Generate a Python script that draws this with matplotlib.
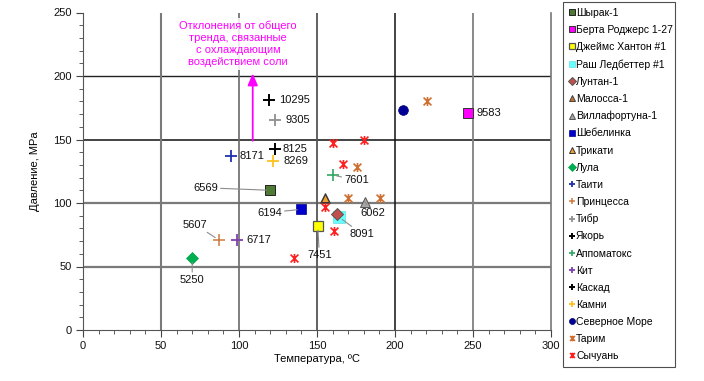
import matplotlib
matplotlib.use("Agg")
import matplotlib.pyplot as plt
from matplotlib.path import Path
from matplotlib.ticker import MultipleLocator

plt.rcParams['font.family'] = ['Liberation Sans', 'DejaVu Sans']

# ---------------- data ----------------
series_names = ["Шырак-1", "Берта Роджерс 1-27", "Джеймс Хантон #1", "Раш Ледбеттер #1",
                "Лунтан-1", "Малосса-1", "Виллафортуна-1", "Шебелинка", "Трикати", "Лула",
                "Таити", "Принцесса", "Тибр", "Якорь", "Аппоматокс", "Кит", "Каскад",
                "Камни", "Северное Море", "Тарим", "Сычуань"]
temperature = [[120], [247], [150.5], [164], [162.5], [155], [180.5], [140], [155], [70],
               [95], [87], [123], [119.5], [160], [99], [123], [122], [205],
               [220.5, 175.5, 170, 190.5],
               [160, 180, 166.5, 155, 161, 135]]
pressure = [[110], [171], [82], [89], [91], [104], [101], [95], [104], [56.5],
            [137], [71], [165], [181], [122], [71], [142.5], [133], [173],
            [180, 128, 104, 104],
            [147, 150, 130.5, 97, 78, 56.5]]
# well depth labels: (series index, label)
label_series = [0, 1, 2, 3, 6, 7, 10, 11, 15, 9, 12, 13, 14, 16, 17]
label_text = ["6569", "9583", "7451", "8091", "6062", "6194", "8171", "5607", "6717",
              "5250", "9305", "10295", "7601", "8125", "8269"]

annotation_text = "Отклонения от общего\nтренда, связанные\nс охлаждающим\nвоздействием соли"

# ---------------- styles ----------------
star = Path([(-1, -1), (1, 1), (-1, 1), (1, -1), (0, 1.15), (0, -1.15)],
            [Path.MOVETO, Path.LINETO, Path.MOVETO, Path.LINETO,
             Path.MOVETO, Path.LINETO])
styles = [
    dict(marker='s', ms=7, mfc='#4e7a35', mec='#222222', mew=0.7),
    dict(marker='s', ms=7, mfc='#ff00ff', mec='#333333', mew=0.7),
    dict(marker='s', ms=7.5, mfc='#ffff00', mec='#555555', mew=0.9),
    dict(marker='s', ms=8, mfc='#66ffff', mec='#66dddd', mew=0.5),
    dict(marker='D', ms=6, mfc='#c0504d', mec='#555555', mew=0.7),
    dict(marker='^', ms=7, mfc='#c07030', mec='#444444', mew=0.7),
    dict(marker='^', ms=7, mfc='#a6a6a6', mec='#555555', mew=0.7),
    dict(marker='s', ms=6.5, mfc='#0000cc', mec='#000088', mew=0.5),
    dict(marker='^', ms=6, mfc='#f0a030', mec='#333333', mew=0.7),
    dict(marker='D', ms=6, mfc='#00b050', mec='#00a048', mew=0.5),
    dict(marker='+', ms=8, mec='#2030b0', mew=1.3),
    dict(marker='+', ms=8, mec='#d07a40', mew=1.1),
    dict(marker='+', ms=8, mec='#909090', mew=1.3),
    dict(marker='+', ms=8, mec='#000000', mew=1.4),
    dict(marker='+', ms=8, mec='#30a860', mew=1.2),
    dict(marker='+', ms=8, mec='#8040b0', mew=1.3),
    dict(marker='+', ms=8, mec='#000000', mew=1.4),
    dict(marker='+', ms=8, mec='#ffc020', mew=1.3),
    dict(marker='o', ms=7, mfc='#000099', mec='#000066', mew=0.5),
    dict(marker=star, ms=6.5, mec='#d07030', mfc='none', mew=1.2),
    dict(marker=star, ms=6.5, mec='#ff2020', mfc='none', mew=1.2),
]

fig = plt.figure(figsize=(7.04, 3.81), dpi=100)
ax = fig.add_axes([83 / 704, 1 - 330 / 381, 468 / 704, 317.5 / 381])

for name, xs, ys, st in zip(series_names, temperature, pressure, styles):
    ax.plot(xs, ys, linestyle='none', label=name, zorder=3, **st)

ax.set_xlim(0, 300)
ax.set_ylim(0, 250)
ax.xaxis.set_major_locator(MultipleLocator(50))
ax.yaxis.set_major_locator(MultipleLocator(50))
ax.xaxis.set_minor_locator(MultipleLocator(10))
ax.yaxis.set_minor_locator(MultipleLocator(10))
ax.tick_params(which='major', direction='out', length=5, width=0.8, color='#444444',
               labelsize=8, labelcolor='#111111', pad=3)
ax.tick_params(which='minor', direction='out', length=3, width=0.6, color='#444444')

ax.spines['top'].set_visible(False)
ax.spines['left'].set_color('#555555')
ax.spines['bottom'].set_color('#555555')
ax.spines['right'].set_color('#777777')
ax.spines['right'].set_linewidth(1.2)

# gridlines
hgrid = {50: ('#7a7a7a', 1.6), 100: ('#7a7a7a', 1.6), 150: ('#111111', 1.1), 200: ('#222222', 1.0)}
vgrid = {50: ('#7a7a7a', 1.5), 100: ('#6a6a6a', 1.2), 150: ('#555555', 1.3), 200: ('#111111', 1.1), 250: ('#808080', 1.3)}
for v, (c, lw) in hgrid.items():
    ax.axhline(v, color=c, lw=lw, zorder=1)
for v, (c, lw) in vgrid.items():
    ax.axvline(v, color=c, lw=lw, zorder=1)

ax.set_xlabel("Температура, ºC", fontsize=8, labelpad=2)
ax.set_ylabel("Давление, MPa", fontsize=8, labelpad=10)

# point labels
text_pos = {
    "6569": ((78.5, 112), 'center', True),
    "9583": ((252.5, 171), 'left', False),
    "7451": ((151.5, 59), 'center', True),
    "8091": ((179, 75.5), 'center', True),
    "6062": ((186, 92.5), 'center', True),
    "6194": ((119.5, 92.5), 'center', True),
    "8171": ((100.5, 137), 'left', False),
    "5607": ((72, 83), 'center', True),
    "6717": ((105, 71), 'left', False),
    "5250": ((70, 39.5), 'center', True),
    "9305": ((129.5, 165), 'left', False),
    "10295": ((126, 181), 'left', False),
    "7601": ((167.5, 118), 'left', True),
    "8125": ((128, 142.5), 'left', False),
    "8269": ((128.5, 133), 'left', False),
}
for si, lab in zip(label_series, label_text):
    pt = (temperature[si][0], pressure[si][0])
    pos, ha, leader = text_pos[lab]
    ap = dict(arrowstyle='-', color='#8c8c8c', lw=0.8, shrinkA=0, shrinkB=3) if leader else None
    ax.annotate(lab, xy=pt, xytext=pos, ha=ha, va='center', fontsize=8, color='#111111',
                arrowprops=ap, zorder=4)

# salt-cooling note with arrow
ax.annotate("", xy=(108.8, 202), xytext=(108.8, 149),
            arrowprops=dict(arrowstyle='-|>,head_length=0.7,head_width=0.3', color='#ff00ff',
                            lw=1.3, shrinkA=0, shrinkB=0), zorder=5)
ax.text(99.5, 225, annotation_text, ha='center', va='center', fontsize=8, color='#ff00ff',
        linespacing=1.25, zorder=5,
        bbox=dict(boxstyle='square,pad=0.25', fc='white', ec='none', alpha=0.85))

leg = fig.legend(loc='upper left', bbox_to_anchor=(563 / 704, 1 - 6 / 381, 112 / 704, 0.01),
                 mode='expand', frameon=True, fancybox=False, edgecolor='#222222',
                 fontsize=7.5, handlelength=0.6, handletextpad=0.1, labelspacing=0.68,
                 borderpad=0.55, borderaxespad=0, markerscale=0.62, numpoints=1)
leg.get_frame().set_linewidth(0.8)

fig.savefig("out.png", dpi=100, facecolor='white')
